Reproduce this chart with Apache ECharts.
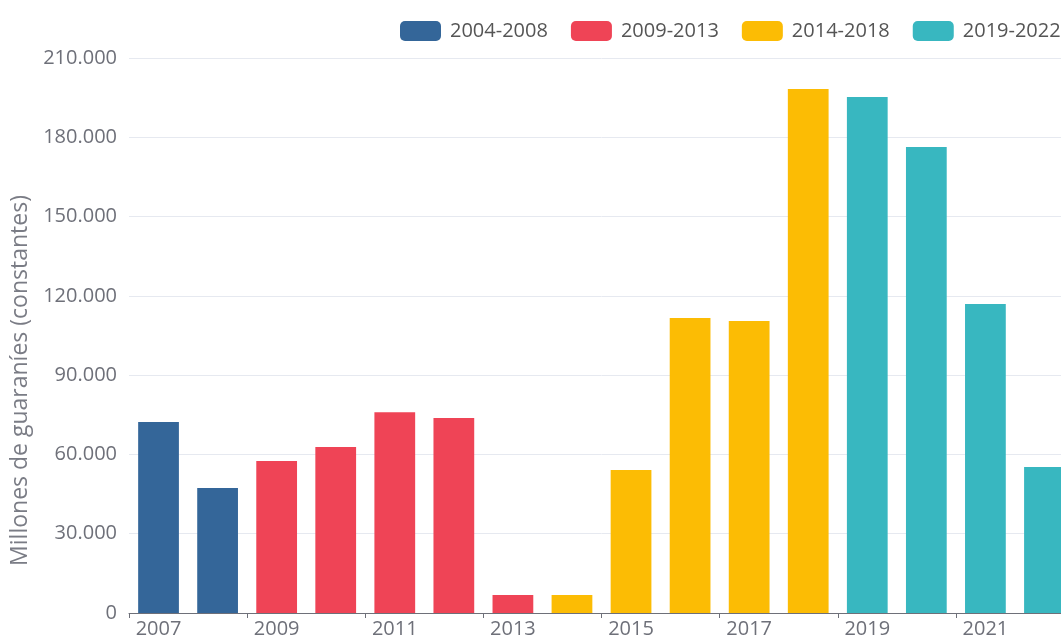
<!DOCTYPE html>
<html>
<head>
<meta charset="utf-8">
<script src="https://cdn.jsdelivr.net/npm/echarts@6/dist/echarts.min.js"></script>
<style>html,body{margin:0;padding:0;background:#fff;overflow:hidden;}#c{width:1075px;height:644px;}</style>
</head>
<body>
<div id="c"></div>
<script>
var years = ['2007','2008','2009','2010','2011','2012','2013','2014','2015','2016','2017','2018','2019','2020','2021','2022'];
var periods = ['2004-2008','2009-2013','2014-2018','2019-2022'];
var colors = ['#346699','#ef4456','#fcbc04','#38b7c0'];
var s2004 = [72300, 47300, null, null, null, null, null, null, null, null, null, null, null, null, null, null];
var s2009 = [null, null, 57500, 62800, 76000, 73800, 6800, null, null, null, null, null, null, null, null, null];
var s2014 = [null, null, null, null, null, null, null, 6800, 54100, 111600, 110500, 198300, null, null, null, null];
var s2019 = [null, null, null, null, null, null, null, null, null, null, null, null, 195200, 176300, 116900, 55200];
var seriesData = [s2004, s2009, s2014, s2019];
var yTicks = {min: 0, max: 210000, interval: 30000};
var yName = 'Millones de guaraníes (constantes)';

var font = 'Open Sans, Noto Sans, sans-serif';
var chart = echarts.init(document.getElementById('c'), null, {renderer: 'canvas'});
chart.setOption({
  animation: false,
  color: colors,
  legend: {
    left: 395, top: 16,
    itemWidth: 41, itemHeight: 20, itemGap: 23,
    icon: 'roundRect',
    textStyle: {fontFamily: font, fontSize: 20, color: '#555', padding: [0, 0, 0, 4]},
    data: periods
  },
  grid: {left: 129, right: 1, top: 58, bottom: 31, containLabel: false},
  xAxis: {
    type: 'category',
    data: years,
    axisLine: {lineStyle: {color: '#6e7079'}},
    axisTick: {show: true, interval: 1, lineStyle: {color: '#6e7079'}},
    axisLabel: {interval: 1, fontFamily: font, fontSize: 20, color: '#6e7079', margin: 6}
  },
  yAxis: {
    type: 'value',
    min: yTicks.min, max: yTicks.max, interval: yTicks.interval,
    name: yName,
    nameLocation: 'middle',
    nameGap: 88,
    nameTextStyle: {fontFamily: font, fontSize: 23, color: '#7a7c85', padding: [0, 90, 0, 0]},
    axisLine: {show: false},
    axisTick: {show: false},
    splitLine: {lineStyle: {color: '#e6e9f0'}},
    axisLabel: {
      fontFamily: font, fontSize: 20, color: '#6e7079', margin: 12,
      formatter: function (v) { return v.toString().replace(/\B(?=(\d{3})+(?!\d))/g, '.'); }
    }
  },
  series: periods.map(function (p, i) {
    return {
      name: p,
      type: 'bar',
      stack: 'total',
      barWidth: '69%',
      data: seriesData[i],
      itemStyle: {color: colors[i]}
    };
  })
});
</script>
</body>
</html>
